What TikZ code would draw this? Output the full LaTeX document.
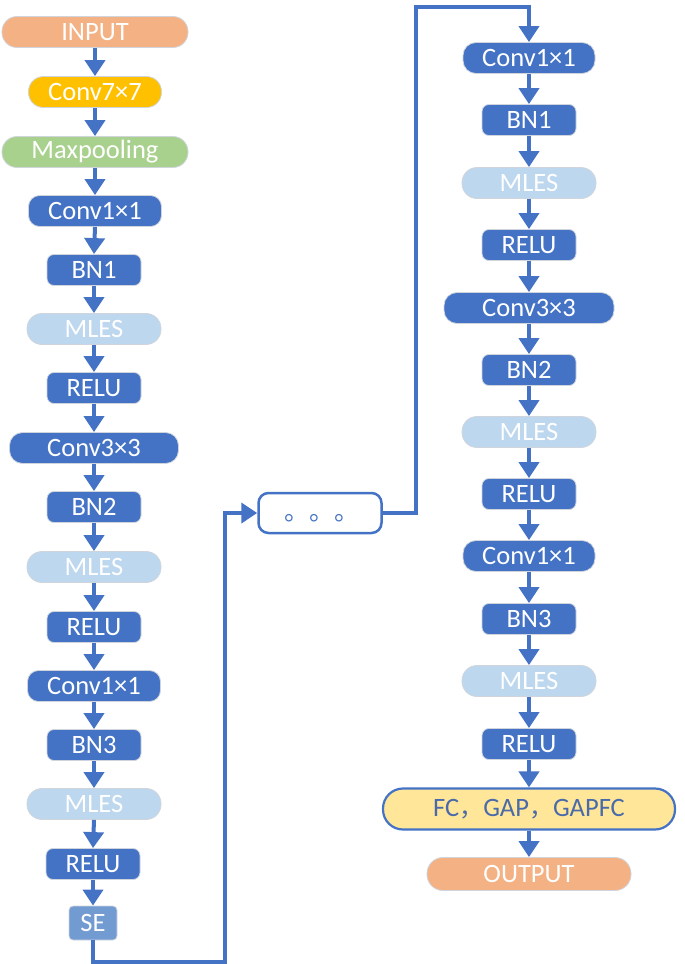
\documentclass[tikz,border=0pt]{standalone}
\usepackage{fontspec}
\setmainfont{Carlito}
\newfontfamily\cjk{Noto Sans CJK SC}
\usetikzlibrary{arrows.meta}
\definecolor{blueD}{HTML}{4472C4}
\definecolor{mles}{HTML}{BDD7EE}
\definecolor{peach}{HTML}{F4B183}
\definecolor{gold}{HTML}{FFC000}
\definecolor{greenM}{HTML}{A9D18E}
\definecolor{seblue}{HTML}{729BD2}
\definecolor{fcfill}{HTML}{FFE699}
\definecolor{fctext}{HTML}{4A6AAA}
\definecolor{edgeL}{HTML}{D0D5DD}
\tikzset{
  x=1pt, y=-1pt,
  box/.style={draw=edgeL, line width=0.8pt, minimum height=31pt, inner sep=0pt, text=white,
    font=\fontsize{26.5}{26.5}\selectfont, rounded corners=#1},
  box/.default=6pt,
  pill/.style={box=15pt},
  convbox/.style={box=11pt, fill=blueD},
  bnbox/.style={box=7pt, fill=blueD, minimum width=94pt},
  mlesbox/.style={box=15pt, fill=mles, minimum width=134pt},
  arr/.style={draw=blueD, line width=4pt, -{Triangle[width=20pt,length=16pt]}},
}
\begin{document}
\begin{tikzpicture}
\useasboundingbox (0,0) rectangle (685,964);
% left column
\node[pill, fill=peach, minimum width=186pt] (L1) at (95,32) {INPUT};
\node[pill, fill=gold, minimum width=133pt] (L2) at (95,92) {Conv7×7};
\node[pill, fill=greenM, minimum width=186pt] (L3) at (95,152) {Maxpooling};
\node[convbox, minimum width=133pt] (L4) at (95,211) {Conv1×1};
\node[bnbox] (L5) at (94,270) {BN1};
\node[mlesbox] (L6) at (94,329) {MLES};
\node[bnbox] (L7) at (94,388) {RELU};
\node[convbox, box=13pt, minimum width=169pt] (L8) at (94,448) {Conv3×3};
\node[bnbox] (L9) at (94,507) {BN2};
\node[mlesbox] (L10) at (94,567) {MLES};
\node[bnbox] (L11) at (94,627) {RELU};
\node[convbox, minimum width=133pt] (L12) at (94,686) {Conv1×1};
\node[bnbox] (L13) at (94,745) {BN3};
\node[mlesbox] (L14) at (94,804) {MLES};
\node[bnbox] (L15) at (93,864) {RELU};
\node[box=4pt, fill=seblue, minimum width=48pt, minimum height=34pt] (SE) at (93,923) {SE};
\foreach \a/\b in {L1/L2,L2/L3,L3/L4,L4/L5,L5/L6,L6/L7,L7/L8,L8/L9,L9/L10,L10/L11,L11/L12,L12/L13,L13/L14,L14/L15,L15/SE}
  \draw[arr] (\a.south) -- (\b.north);
% dots box
\node[draw=blueD, line width=2.5pt, fill=white, rounded corners=10pt, minimum width=123pt, minimum height=40pt, inner sep=0pt] (dots) at (320,513) {};
\node[inner sep=0pt, text=blueD, font=\cjk\fontsize{25}{25}\selectfont, anchor=center] (dt) at (322,518) {。。。};
\coordinate (c1) at (225,962);
\coordinate (c2) at (416,7);
\draw[arr] (SE.south) |- (c1) |- (dots.west);
% right column
\node[convbox, box=13pt, minimum width=132pt] (R1) at (529,58) {Conv1×1};
\draw[arr] (dots.east) -| (c2) -| (R1.north);
\node[bnbox] (R2) at (529,120) {BN1};
\node[mlesbox] (R3) at (529,183) {MLES};
\node[bnbox] (R4) at (529,245) {RELU};
\node[convbox, box=13pt, minimum width=170pt] (R5) at (529,308) {Conv3×3};
\node[bnbox] (R6) at (529,370) {BN2};
\node[mlesbox] (R7) at (529,432) {MLES};
\node[bnbox] (R8) at (529,494) {RELU};
\node[convbox, box=13pt, minimum width=132pt] (R9) at (529,556) {Conv1×1};
\node[bnbox] (R10) at (529,619) {BN3};
\node[mlesbox] (R11) at (529,681) {MLES};
\node[bnbox] (R12) at (529,744) {RELU};
\node[draw=blueD, line width=2.2pt, fill=fcfill, rounded corners=20pt, minimum width=292pt, minimum height=41pt, inner sep=0pt, text=fctext, font=\fontsize{26.5}{26.5}\selectfont] (R13) at (529,809) {FC{\cjk\fontsize{24}{24}\selectfont ，}GAP{\cjk\fontsize{24}{24}\selectfont ，}GAPFC};
\node[pill, box=16pt, fill=peach, minimum width=204pt, minimum height=33pt] (R14) at (529,874) {OUTPUT};
\foreach \a/\b in {R1/R2,R2/R3,R3/R4,R4/R5,R5/R6,R6/R7,R7/R8,R8/R9,R9/R10,R10/R11,R11/R12,R12/R13,R13/R14}
  \draw[arr] (\a.south) -- (\b.north);
\end{tikzpicture}
\end{document}
